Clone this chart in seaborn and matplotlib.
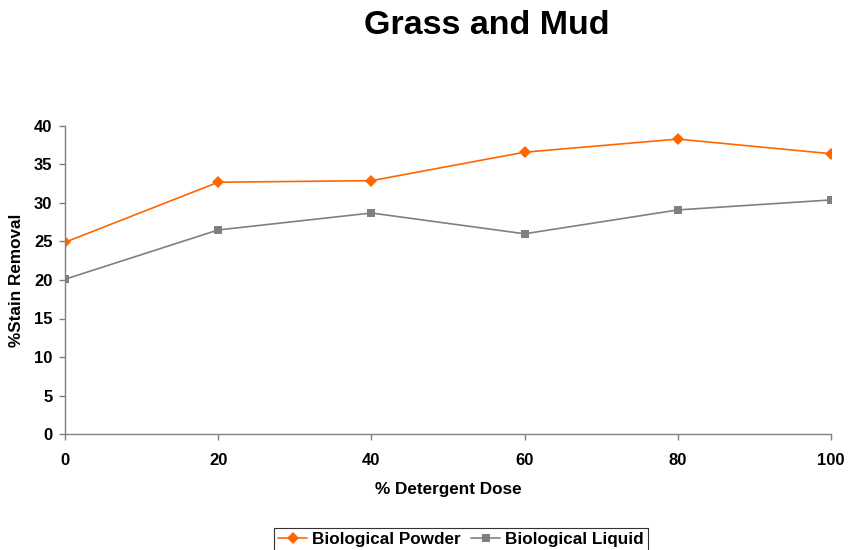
import matplotlib
matplotlib.use("Agg")
import matplotlib.pyplot as plt
import seaborn as sns
import pandas as pd

dose = [0, 20, 40, 60, 80, 100]
powder = [24.9, 32.7, 32.9, 36.6, 38.3, 36.4]
liquid = [20.1, 26.5, 28.7, 26.0, 29.1, 30.4]
series_names = ["Biological Powder", "Biological Liquid"]
x_ticks = [0, 20, 40, 60, 80, 100]
y_ticks = [0, 5, 10, 15, 20, 25, 30, 35, 40]

df = pd.DataFrame({
    "dose": dose * 2,
    "value": powder + liquid,
    "series": [series_names[0]] * len(dose) + [series_names[1]] * len(dose),
})

sns.set_style("white")
plt.rcParams['font.family'] = ['Liberation Sans', 'DejaVu Sans']
plt.rcParams['text.color'] = 'black'
plt.rcParams['axes.labelcolor'] = 'black'
plt.rcParams['xtick.color'] = 'black'
plt.rcParams['ytick.color'] = 'black'

fig = plt.figure(figsize=(8.48, 5.5), dpi=100)
ax = fig.add_axes([65/848, 1-434/550, (831-65)/848, (434-126)/550])

palette = {series_names[0]: "#FF6600", series_names[1]: "#808080"}
markers = {series_names[0]: "D", series_names[1]: "s"}
sns.lineplot(data=df, x="dose", y="value", hue="series", style="series",
             palette=palette, markers=markers, dashes=False, markersize=6,
             markeredgewidth=0, linewidth=1.2, ax=ax)

ax.set_xlim(0, 100)
ax.set_ylim(0, 40)
ax.set_xticks(x_ticks)
ax.set_yticks(y_ticks)
ax.tick_params(axis="both", which="major", bottom=True, left=True,
               direction="out", length=4, width=1, color="#808080",
               labelcolor="black", labelsize=12)
ax.tick_params(axis="x", pad=10)
ax.tick_params(axis="y", pad=5)
for lab in ax.get_xticklabels() + ax.get_yticklabels():
    lab.set_fontweight("bold")
for s in ["top", "right"]:
    ax.spines[s].set_visible(False)
for s in ["left", "bottom"]:
    ax.spines[s].set_color("#808080")
    ax.spines[s].set_linewidth(1)

ax.set_xlabel("% Detergent Dose", fontsize=12.3, fontweight="bold", labelpad=10)
ax.set_ylabel("%Stain Removal", fontsize=12.3, fontweight="bold", labelpad=7)

fig.text(487/848, 1-26/550, "Grass and Mud", ha="center", va="center",
         fontsize=24.5, fontweight="bold", color="black")

leg = ax.legend(loc="upper center", bbox_to_anchor=(461/848, 1-528/550),
                bbox_transform=fig.transFigure, ncol=2, frameon=True,
                fancybox=False, edgecolor="black",
                prop={"weight": "bold", "size": 12.3},
                handlelength=1.7, handletextpad=0.3, columnspacing=0.6,
                borderpad=0.25, borderaxespad=0)
leg.get_frame().set_linewidth(0.8)
for t in leg.get_texts():
    t.set_color("black")

fig.savefig("out.png", dpi=100)
